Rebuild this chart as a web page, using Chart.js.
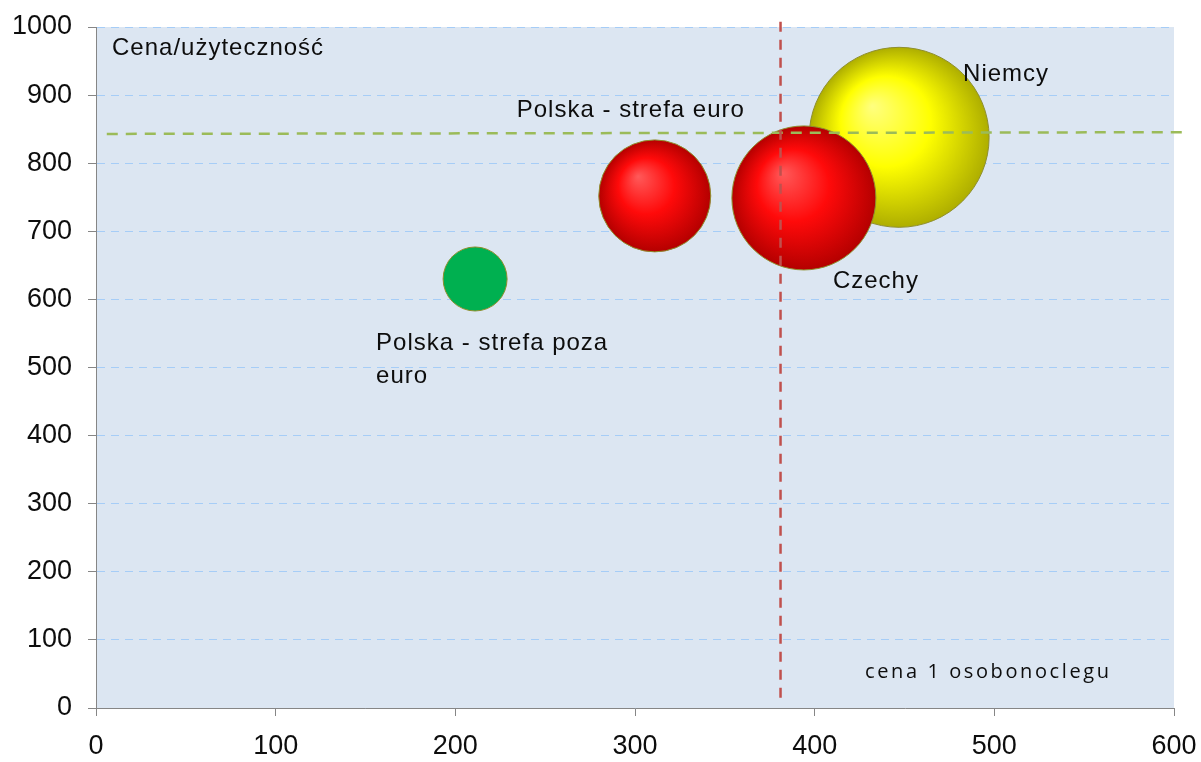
<!DOCTYPE html>
<html lang="pl">
<head>
<meta charset="utf-8">
<title>Cena/użyteczność</title>
<script src="https://cdn.jsdelivr.net/npm/chart.js@4.4.1/dist/chart.umd.min.js"></script>
<style>
  html, body { margin: 0; padding: 0; background: #ffffff; }
  #wrap { width: 1201px; height: 762px; }
</style>
</head>
<body>
<div id="wrap"><canvas id="chart" width="1201" height="762"></canvas></div>
<script>
// Bubble data: price per overnight stay (x) against the price/utility score (y)
const categories = ['Polska - strefa poza euro', 'Polska - strefa euro', 'Niemcy', 'Czechy'];
const priceValues = [211, 311, 447, 394];
const utilityValues = [630, 752, 838, 749];
const bubbleRadii = [32, 56, 90, 72];
const bubbleFills = ['green', 'red', 'yellow', 'red'];

// Bubble captions (text lines per bubble)
const bubbleCaptions = [['Polska - strefa poza', 'euro'], ['Polska - strefa euro'], ['Niemcy'], ['Czechy']];

// Reference lines: average price (vertical) and average score (horizontal)
const avgPriceLine = [{ x: 381, y: 15 }, { x: 381, y: 1018 }];
const avgScoreLine = [{ x: 6, y: 843 }, { x: 608, y: 845.5 }];

// Axis ticks
const xTicks = [0, 100, 200, 300, 400, 500, 600];
const yTicks = [0, 100, 200, 300, 400, 500, 600, 700, 800, 900, 1000];

const yAxisTitle = 'Cena/użyteczność';
const xAxisTitle = 'cena 1 osobonoclegu';

const sphereStops = {
  red: ['#ff5a5a', '#ff0a0a', '#b40000'],
  yellow: ['#ffff80', '#ffff00', '#aeae00']
};

function sphereFill(context) {
  const i = context.dataIndex;
  const kind = bubbleFills[i];
  if (kind === 'green') return '#00b050';
  const stops = sphereStops[kind];
  const chart = context.chart;
  const xs = chart.scales.x, ys = chart.scales.y;
  if (!xs || !ys || !chart.chartArea) return stops[1];
  const cx = xs.getPixelForValue(priceValues[i]);
  const cy = ys.getPixelForValue(utilityValues[i]);
  const r = bubbleRadii[i];
  const g = chart.ctx.createRadialGradient(cx - 0.3 * r, cy - 0.35 * r, 0, cx, cy, r);
  g.addColorStop(0, stops[0]);
  g.addColorStop(0.5, stops[1]);
  g.addColorStop(1, stops[2]);
  return g;
}

// Caption placement relative to each bubble centre (pixels)
const captionOffsets = [[-99, 71], [-138, -79], [64, -56], [29, 90]];

const plotBackground = {
  id: 'plotBackground',
  beforeDraw(chart) {
    const { ctx, chartArea: a } = chart;
    ctx.save();
    ctx.fillStyle = '#dce6f2';
    ctx.fillRect(a.left, a.top, a.right - a.left, a.bottom - a.top);
    ctx.restore();
  }
};

const captions = {
  id: 'captions',
  afterDraw(chart) {
    const { ctx, chartArea: a } = chart;
    const xs = chart.scales.x, ys = chart.scales.y;
    ctx.save();
    ctx.fillStyle = '#0d0d0d';
    ctx.textAlign = 'left';
    ctx.textBaseline = 'alphabetic';
    ctx.font = '24px "Liberation Sans", Arial, sans-serif';
    ctx.letterSpacing = '1px';
    bubbleCaptions.forEach((lines, i) => {
      const cx = xs.getPixelForValue(priceValues[i]);
      const cy = ys.getPixelForValue(utilityValues[i]);
      const [dx, dy] = captionOffsets[i];
      lines.forEach((t, k) => ctx.fillText(t, cx + dx, cy + dy + k * 33));
    });
    ctx.fillText(yAxisTitle, a.left + 16, a.top + 28);
    ctx.font = '20px "Open Sans", sans-serif';
    ctx.letterSpacing = '2.6px';
    ctx.fillText(xAxisTitle, a.right - 309, a.bottom - 30);
    ctx.restore();
  }
};

new Chart(document.getElementById('chart'), {
  type: 'bubble',
  data: {
    labels: categories,
    datasets: [
      {
        type: 'line',
        label: 'avg price',
        data: avgPriceLine,
        borderColor: '#c0504d',
        borderWidth: 2.5,
        borderDash: [10, 8],
        pointRadius: 0,
        clip: false,
        order: 0
      },
      {
        type: 'line',
        label: 'avg score',
        data: avgScoreLine,
        borderColor: '#9bbb59',
        borderWidth: 2.5,
        borderDash: [11, 8],
        pointRadius: 0,
        clip: false,
        order: 0
      },
      {
        label: 'kraje',
        data: categories.map((c, i) => ({ x: priceValues[i], y: utilityValues[i], r: bubbleRadii[i] })),
        backgroundColor: sphereFill,
        borderColor: '#8f8f2e',
        borderWidth: 1,
        order: 1
      }
    ]
  },
  options: {
    responsive: false,
    animation: false,
    events: [],
    layout: { autoPadding: false, padding: { top: 27, right: 27, left: 0, bottom: 0 } },
    plugins: { legend: { display: false }, tooltip: { enabled: false } },
    scales: {
      x: {
        type: 'linear',
        min: xTicks[0],
        max: xTicks[xTicks.length - 1],
        afterBuildTicks(scale) { scale.ticks = xTicks.map(v => ({ value: v })); },
        afterFit(scale) {
          scale.height = 54;
          scale.paddingLeft = 0;
          scale.paddingRight = 0;
        },
        ticks: {
          color: '#0d0d0d',
          padding: 14,
          callback: v => String(v),
          font: { family: '"Liberation Sans", Arial, sans-serif', size: 27 }
        },
        grid: {
          drawOnChartArea: false,
          drawTicks: true,
          tickLength: 8,
          tickColor: '#868686',
          tickWidth: 1
        },
        border: { display: true, color: '#868686', width: 1 }
      },
      y: {
        type: 'linear',
        min: yTicks[0],
        max: yTicks[yTicks.length - 1],
        afterBuildTicks(scale) { scale.ticks = yTicks.map(v => ({ value: v })); },
        afterFit(scale) {
          scale.width = 96;
          scale.paddingTop = 0;
          scale.paddingBottom = 0;
        },
        ticks: {
          color: '#0d0d0d',
          padding: 16,
          callback: v => String(v),
          font: { family: '"Liberation Sans", Arial, sans-serif', size: 27 }
        },
        grid: {
          color: '#a6cdf7',
          lineWidth: 1,
          drawTicks: true,
          tickLength: 8,
          tickColor: '#868686',
          tickBorderDash: [],
          tickWidth: 1
        },
        border: { display: true, color: '#868686', width: 1, dash: [8, 6] }
      }
    }
  },
  plugins: [plotBackground, captions]
});
</script>
</body>
</html>
